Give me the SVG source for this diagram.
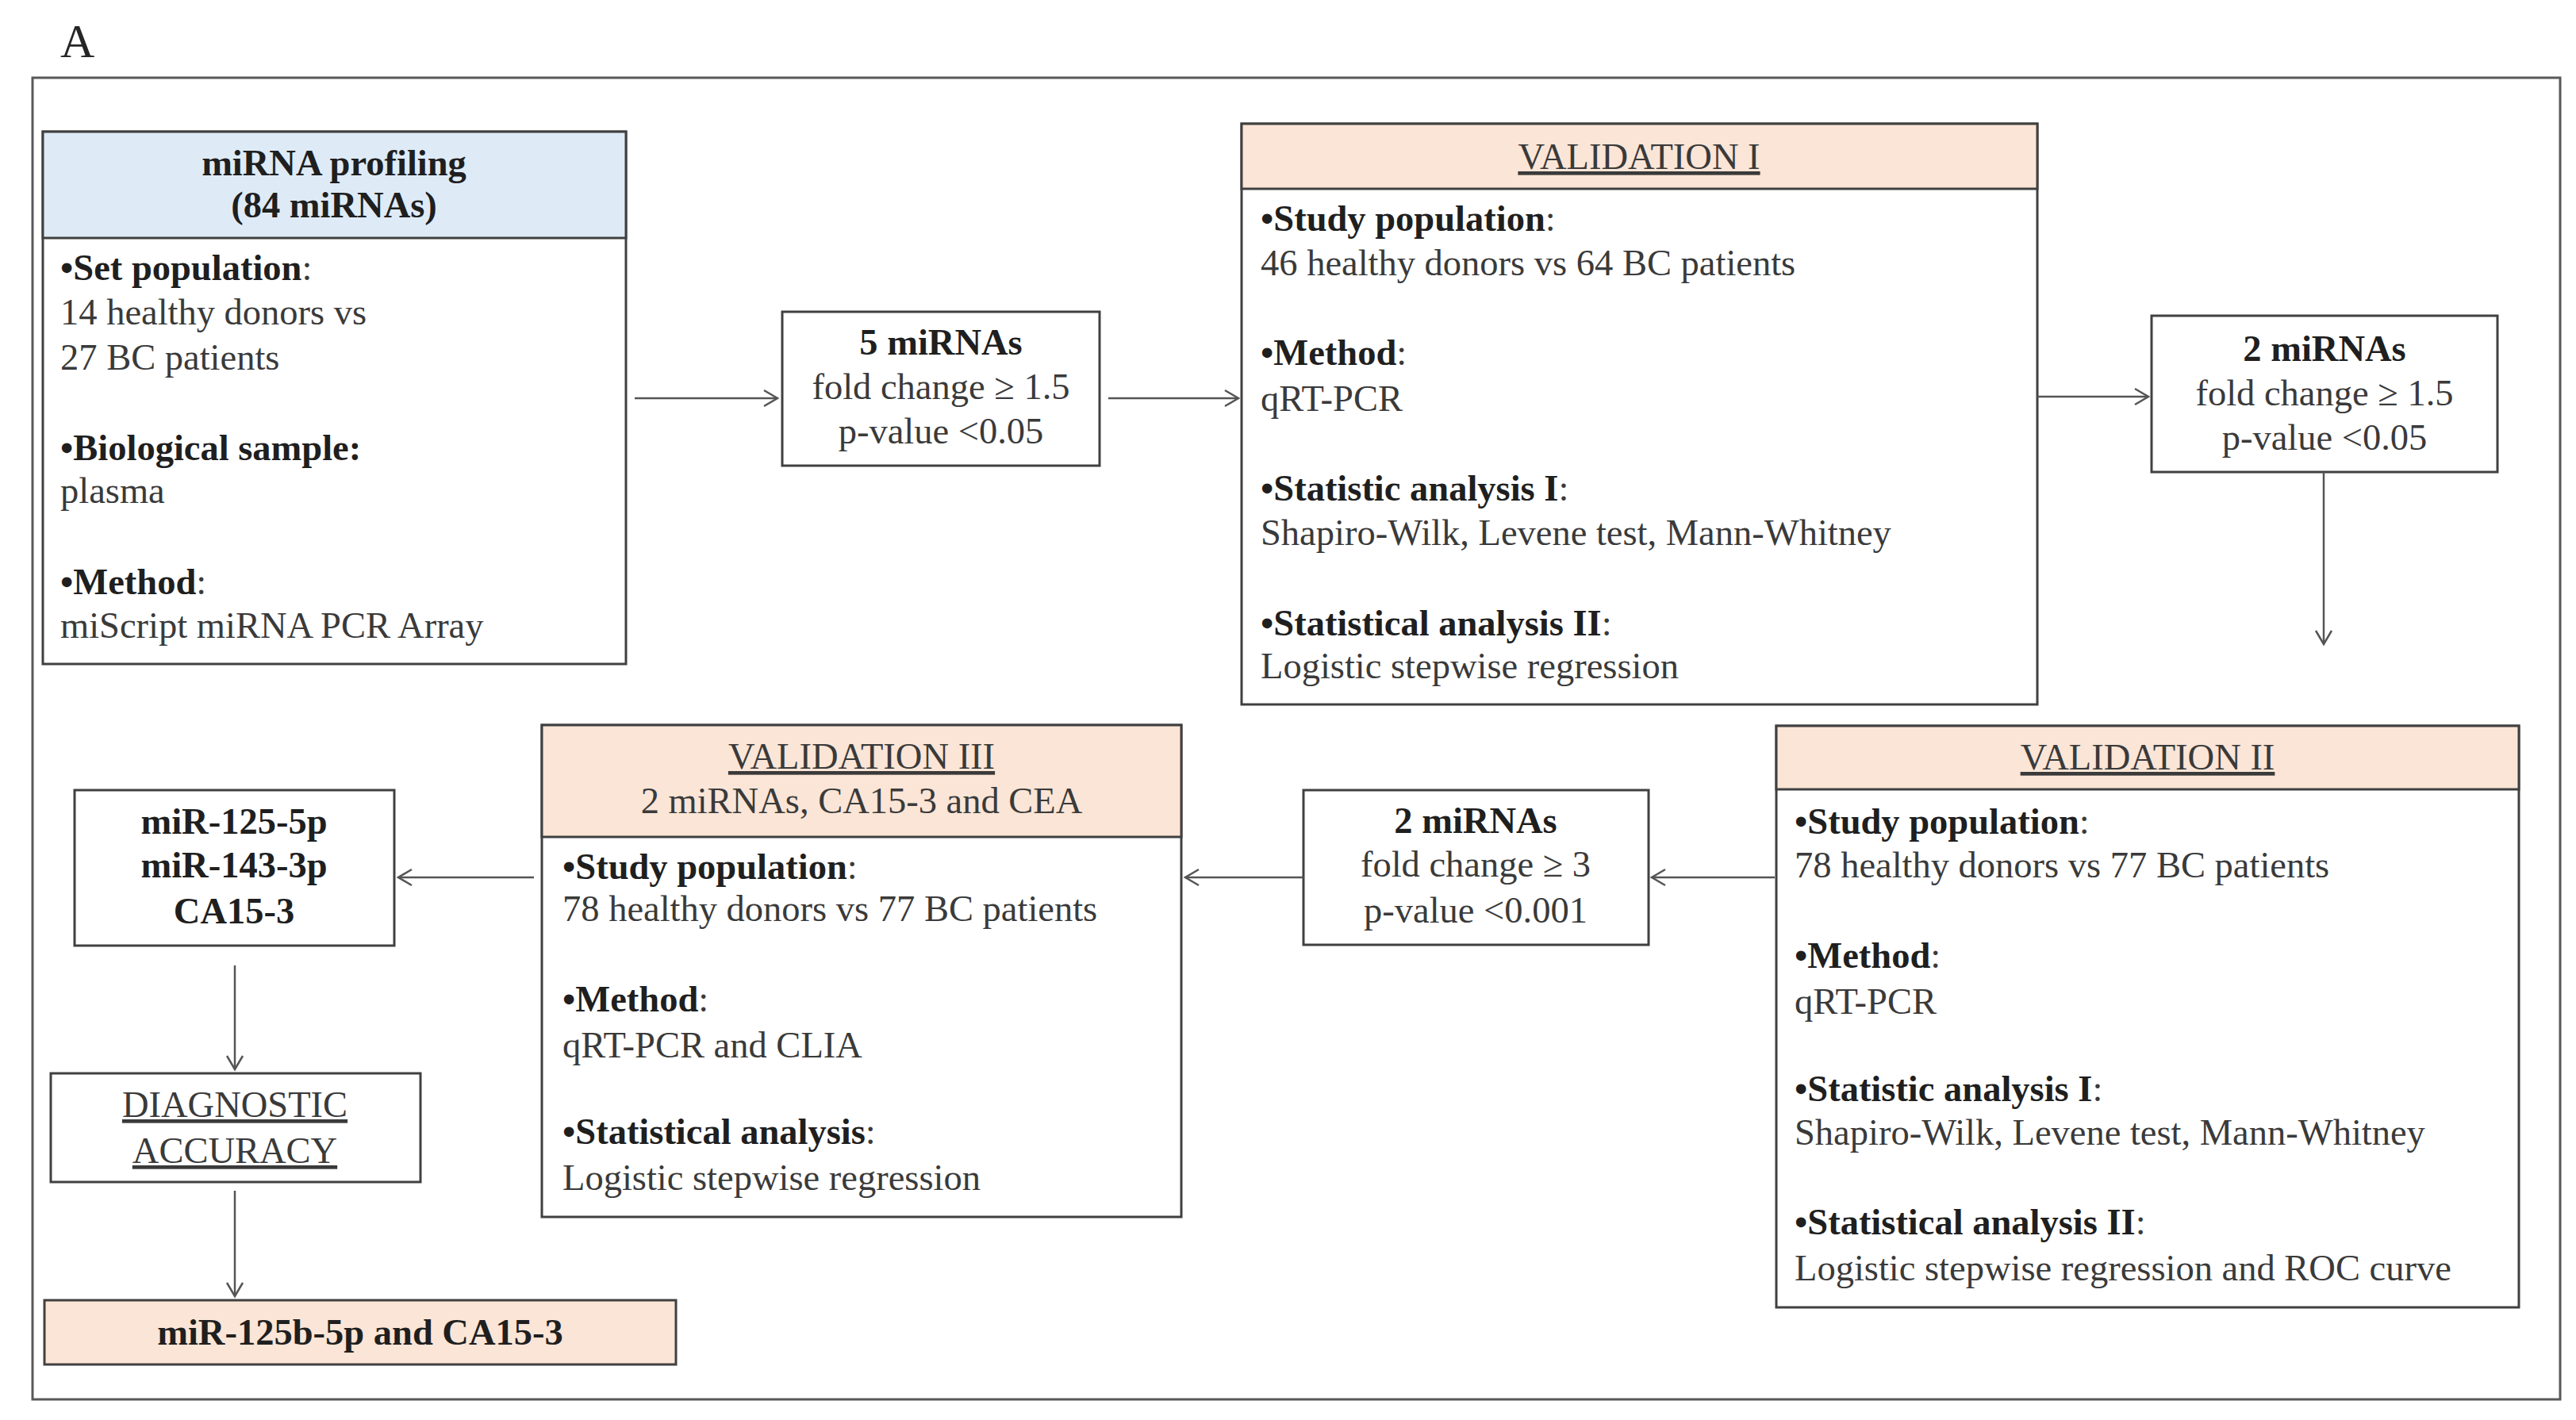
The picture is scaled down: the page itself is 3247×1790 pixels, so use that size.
<svg xmlns="http://www.w3.org/2000/svg" width="3247" height="1790" viewBox="0 0 3247 1790">
<style>
text{font-family:"Liberation Serif","Times New Roman",serif;font-size:46.5px;fill:#3a3a3a}
.b{font-weight:bold;fill:#1f1f1f}
.c{text-anchor:middle}
.u{text-decoration:underline}
.box{fill:#ffffff;stroke:#404040;stroke-width:3}
.peach{fill:#fbe5d6;stroke:#404040;stroke-width:3}
.blue{fill:#deebf7;stroke:#404040;stroke-width:3}
.frame{fill:none;stroke:#595959;stroke-width:3}
.conn line{stroke:#555555;stroke-width:2.5;fill:none;marker-end:url(#arr)}
</style>
<defs>
<marker id="arr" markerUnits="userSpaceOnUse" markerWidth="24" markerHeight="28" refX="20" refY="14" orient="auto" overflow="visible">
<path d="M3,4 L20,14 L3,24" fill="none" stroke="#555555" stroke-width="2.5"/>
</marker>
</defs>
<rect width="3247" height="1790" fill="#ffffff"/>
<text x="76" y="72" style="font-size:60px;fill:#262626">A</text>
<rect class="frame" x="41" y="98" width="3186" height="1666"/>

<g id="profiling">
<rect class="box" x="54" y="166" width="735" height="671"/>
<rect class="blue" x="54" y="166" width="735" height="134"/>
<text class="b c" x="421" y="221">miRNA profiling</text>
<text class="b c" x="421" y="274">(84 miRNAs)</text>
<text x="76" y="353"><tspan class="b">•Set population</tspan>:</text>
<text x="76" y="409">14 healthy donors vs</text>
<text x="76" y="466">27 BC patients</text>
<text x="76" y="580"><tspan class="b">•Biological sample:</tspan></text>
<text x="76" y="634">plasma</text>
<text x="76" y="749"><tspan class="b">•Method</tspan>:</text>
<text x="76" y="804">miScript miRNA PCR Array</text>
</g>

<g id="five-mirnas">
<rect class="box" x="986" y="393" width="400" height="194"/>
<text class="b c" x="1186" y="447">5 miRNAs</text>
<text class="c" x="1186" y="503">fold change ≥ 1.5</text>
<text class="c" x="1186" y="559">p-value &lt;0.05</text>
</g>

<g id="validation1">
<rect class="box" x="1565" y="156" width="1003" height="732"/>
<rect class="peach" x="1565" y="156" width="1003" height="82"/>
<text class="c u" x="2066" y="213">VALIDATION I</text>
<text x="1589" y="291"><tspan class="b">•Study population</tspan>:</text>
<text x="1589" y="347">46 healthy donors vs 64 BC patients</text>
<text x="1589" y="460"><tspan class="b">•Method</tspan>:</text>
<text x="1589" y="518">qRT-PCR</text>
<text x="1589" y="631"><tspan class="b">•Statistic analysis I</tspan>:</text>
<text x="1589" y="687">Shapiro-Wilk, Levene test, Mann-Whitney</text>
<text x="1589" y="801"><tspan class="b">•Statistical analysis II</tspan>:</text>
<text x="1589" y="855">Logistic stepwise regression</text>
</g>

<g id="two-mirnas-a">
<rect class="box" x="2712" y="398" width="436" height="197"/>
<text class="b c" x="2930" y="455">2 miRNAs</text>
<text class="c" x="2930" y="511">fold change ≥ 1.5</text>
<text class="c" x="2930" y="567">p-value &lt;0.05</text>
</g>

<g id="validation2">
<rect class="box" x="2239" y="915" width="936" height="733"/>
<rect class="peach" x="2239" y="915" width="936" height="80"/>
<text class="c u" x="2707" y="970">VALIDATION II</text>
<text x="2262" y="1051"><tspan class="b">•Study population</tspan>:</text>
<text x="2262" y="1106">78 healthy donors vs 77 BC patients</text>
<text x="2262" y="1220"><tspan class="b">•Method</tspan>:</text>
<text x="2262" y="1278">qRT-PCR</text>
<text x="2262" y="1388"><tspan class="b">•Statistic analysis I</tspan>:</text>
<text x="2262" y="1443">Shapiro-Wilk, Levene test, Mann-Whitney</text>
<text x="2262" y="1556"><tspan class="b">•Statistical analysis II</tspan>:</text>
<text x="2262" y="1614">Logistic stepwise regression and ROC curve</text>
</g>

<g id="two-mirnas-b">
<rect class="box" x="1643" y="996" width="435" height="195"/>
<text class="b c" x="1860" y="1050">2 miRNAs</text>
<text class="c" x="1860" y="1105">fold change ≥ 3</text>
<text class="c" x="1860" y="1163">p-value &lt;0.001</text>
</g>

<g id="validation3">
<rect class="box" x="683" y="914" width="806" height="620"/>
<rect class="peach" x="683" y="914" width="806" height="141"/>
<text class="c u" x="1086" y="969">VALIDATION III</text>
<text class="c" x="1086" y="1025">2 miRNAs, CA15-3 and CEA</text>
<text x="709" y="1108"><tspan class="b">•Study population</tspan>:</text>
<text x="709" y="1161">78 healthy donors vs 77 BC patients</text>
<text x="709" y="1275"><tspan class="b">•Method</tspan>:</text>
<text x="709" y="1333">qRT-PCR and CLIA</text>
<text x="709" y="1442"><tspan class="b">•Statistical analysis</tspan>:</text>
<text x="709" y="1500">Logistic stepwise regression</text>
</g>

<g id="markers-box">
<rect class="box" x="94" y="996" width="403" height="196"/>
<text class="b c" x="295" y="1051">miR-125-5p</text>
<text class="b c" x="295" y="1106">miR-143-3p</text>
<text class="b c" x="295" y="1164">CA15-3</text>
</g>

<g id="diagnostic">
<rect class="box" x="64" y="1353" width="466" height="137"/>
<text class="c u" x="296" y="1408">DIAGNOSTIC</text>
<text class="c u" x="296" y="1466">ACCURACY</text>
</g>

<g id="result">
<rect class="peach" x="56" y="1639" width="796" height="81"/>
<text class="b c" x="454" y="1695">miR-125b-5p and CA15-3</text>
</g>

<g id="connectors" class="conn">
<line x1="800" y1="502" x2="980" y2="502"/>
<line x1="1397" y1="502" x2="1561" y2="502"/>
<line x1="2568" y1="500" x2="2708" y2="500"/>
<line x1="2929" y1="595" x2="2929" y2="812"/>
<line x1="2237" y1="1106" x2="2082" y2="1106"/>
<line x1="1643" y1="1106" x2="1494" y2="1106"/>
<line x1="673" y1="1106" x2="502" y2="1106"/>
<line x1="296" y1="1217" x2="296" y2="1348"/>
<line x1="296" y1="1501" x2="296" y2="1634"/>
</g>
</svg>
